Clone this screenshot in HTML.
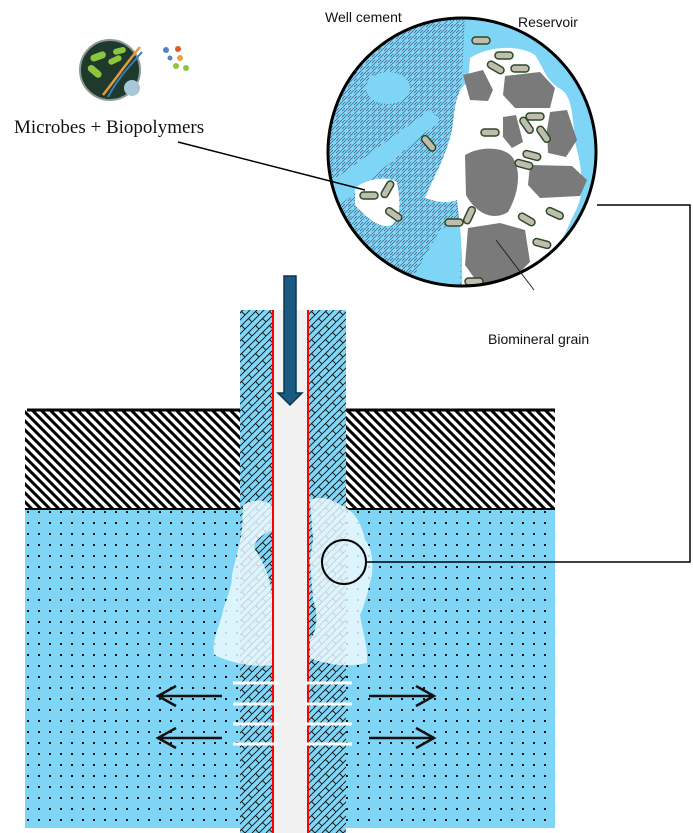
<!DOCTYPE html>
<html><head><meta charset="utf-8"><style>
html,body{margin:0;padding:0;background:#fff;}
svg{display:block}
text{font-family:"Liberation Sans",sans-serif}
</style></head><body>
<svg width="693" height="833" viewBox="0 0 693 833" xmlns="http://www.w3.org/2000/svg">
<defs>
<pattern id="dots" width="11" height="11" patternUnits="userSpaceOnUse">
<rect width="11" height="11" fill="#7fd5f6"/><rect x="5" y="5" width="2" height="2" fill="#111"/>
</pattern>
<pattern id="hatch" width="9" height="9" patternUnits="userSpaceOnUse">
<rect width="9" height="9" fill="#fff"/>
<path d="M-2,-2 L11,11 M-2,7 L2,11 M7,-2 L11,2" stroke="#000" stroke-width="3"/>
</pattern>
<pattern id="brick" width="14" height="14" patternUnits="userSpaceOnUse">
<rect width="14" height="14" fill="#80d6f7"/>
<path d="M0,14 L14,0 M0,7 L7,0 M7,14 L14,7 M3.5,3.5 L7,7 M10.5,10.5 L14,14" stroke="#111" stroke-width="0.9" fill="none"/>
</pattern>
<pattern id="fine" width="6" height="6" patternUnits="userSpaceOnUse">
<rect width="6" height="6" fill="#7fd5f6"/>
<path d="M0,6 L6,0 M0,3 L3,0" stroke="#446" stroke-width="0.6"/>
</pattern>
<clipPath id="cc"><circle cx="462" cy="152" r="134"/></clipPath>
</defs>

<rect x="25" y="410" width="530" height="100" fill="url(#hatch)"/>
<line x1="27" y1="410" x2="555" y2="410" stroke="#000" stroke-width="3"/>
<line x1="25" y1="509" x2="555" y2="509" stroke="#000" stroke-width="2"/>
<rect x="25" y="510" width="530" height="318" fill="url(#dots)"/>

<rect x="240" y="310" width="33" height="523" fill="url(#brick)"/>
<rect x="309" y="310" width="37" height="523" fill="url(#brick)"/>
<rect x="273" y="310" width="36" height="523" fill="#f1f1f1"/>
<line x1="273" y1="310" x2="273" y2="833" stroke="#f00" stroke-width="2"/>
<line x1="308" y1="310" x2="308" y2="833" stroke="#f00" stroke-width="2"/>

<path d="M243,505 C255,498 268,500 272,506 L272,530 C262,535 255,540 254,548 C262,560 270,575 272,595 L272,665 C250,668 230,662 214,655 C212,640 218,630 222,615 C225,600 232,590 232,575 C235,560 240,545 242,530 Z" fill="rgba(240,250,255,0.82)"/>
<path d="M310,500 C320,495 335,500 340,505 C355,510 362,525 365,540 C372,548 373,560 372,575 C368,590 365,605 360,615 C362,630 368,645 367,663 C345,668 325,664 310,658 L310,640 C318,630 318,610 313,600 L310,560 L313,540 Z" fill="rgba(240,250,255,0.82)"/>

<g stroke="#fff" stroke-width="3">
<line x1="233" y1="683" x2="279" y2="683"/><line x1="233" y1="704" x2="279" y2="704"/><line x1="233" y1="724" x2="279" y2="724"/><line x1="233" y1="744" x2="279" y2="744"/>
<line x1="306" y1="683" x2="352" y2="683"/><line x1="306" y1="704" x2="352" y2="704"/><line x1="306" y1="724" x2="352" y2="724"/><line x1="306" y1="744" x2="352" y2="744"/>
</g>
<g stroke="#111" stroke-width="2.5" fill="none">
<path d="M222,696 L158,696 M176,686 L158,696 L176,706"/>
<path d="M222,738 L158,738 M176,728 L158,738 L176,748"/>
<path d="M369,696 L434,696 M416,686 L434,696 L416,706"/>
<path d="M369,738 L434,738 M416,728 L434,738 L416,748"/>
</g>

<path d="M284,276 L296,276 L296,393 L302,393 L290,405 L278,393 L284,393 Z" fill="#1b5a80" stroke="#0d3550" stroke-width="1.5"/>

<circle cx="344" cy="562" r="22" fill="none" stroke="#000" stroke-width="2"/>
<polyline points="366,562 690,562 690,205 597,205" fill="none" stroke="#000" stroke-width="1.5"/>

<g clip-path="url(#cc)">
<rect x="320" y="10" width="290" height="290" fill="#7fd5f6"/>
<path d="M320,10 L465,10 L462,80 L455,140 L458,200 L462,300 L320,300 Z" fill="url(#fine)"/>
<path d="M320,190 L430,110 L440,120 L320,222 Z" fill="#7fd5f6"/>
<path d="M400,300 L440,230 L460,220 L460,300 Z" fill="#7fd5f6"/>
<ellipse cx="388" cy="88" rx="22" ry="16" fill="#7fd5f6"/>
<path d="M470,58 C490,45 520,45 535,55 C545,70 545,80 562,90 C575,100 572,130 577,150 C582,170 585,195 575,212 C565,232 560,250 545,262 C530,277 510,292 470,297 L462,290 C463,250 460,225 457,200 C445,205 432,200 425,198 C432,180 445,160 452,130 C455,110 455,90 468,82 Z" fill="#fff"/>
<path d="M355,188 C368,178 388,176 397,182 C400,200 402,215 392,225 C378,230 365,215 355,205 Z" fill="#fff"/>
<g fill="#7a7a7a">
<path d="M463,75 L483,70 L493,90 L488,101 L470,100 Z"/>
<path d="M505,76 L540,72 L555,88 L550,108 L515,108 L503,95 Z"/>
<path d="M503,117 L516,115 L523,142 L512,148 L503,137 Z"/>
<path d="M550,112 L567,110 L577,140 L566,157 L548,153 L547,130 Z"/>
<path d="M465,155 C480,146 505,146 513,158 C522,172 518,195 508,212 C492,222 475,212 466,195 Z"/>
<path d="M530,165 L572,166 L587,180 L580,196 L540,198 L528,185 Z"/>
<path d="M468,228 L500,223 L525,230 L530,262 L510,282 L480,286 L465,265 Z"/>
</g>
<g fill="#c0bdb0" stroke="#2b4a26" stroke-width="1.5">
<rect x="472" y="37" width="18" height="7" rx="3.5"/>
<rect x="495" y="52" width="18" height="7" rx="3.5"/>
<rect x="487" y="64" width="18" height="7" rx="3.5" transform="rotate(30 496 67)"/>
<rect x="511" y="65" width="18" height="7" rx="3.5"/>
<rect x="481" y="129" width="18" height="7" rx="3.5"/>
<rect x="526" y="113" width="18" height="7" rx="3.5"/>
<rect x="518" y="122" width="18" height="7" rx="3.5" transform="rotate(55 527 125)"/>
<rect x="535" y="131" width="18" height="7" rx="3.5" transform="rotate(55 544 134)"/>
<rect x="523" y="152" width="18" height="7" rx="3.5" transform="rotate(15 532 155)"/>
<rect x="515" y="161" width="18" height="7" rx="3.5" transform="rotate(15 524 164)"/>
<rect x="420" y="140" width="18" height="7" rx="3.5" transform="rotate(50 429 143)"/>
<rect x="360" y="192" width="18" height="7" rx="3.5"/>
<rect x="378" y="186" width="18" height="7" rx="3.5" transform="rotate(-60 387 189)"/>
<rect x="385" y="211" width="18" height="7" rx="3.5" transform="rotate(35 394 214)"/>
<rect x="445" y="219" width="18" height="7" rx="3.5"/>
<rect x="460" y="212" width="18" height="7" rx="3.5" transform="rotate(-65 469 215)"/>
<rect x="518" y="216" width="18" height="7" rx="3.5" transform="rotate(30 527 219)"/>
<rect x="546" y="210" width="18" height="7" rx="3.5" transform="rotate(25 555 213)"/>
<rect x="533" y="240" width="18" height="7" rx="3.5" transform="rotate(15 542 243)"/>
<rect x="465" y="278" width="18" height="7" rx="3.5"/>
</g>
</g>
<circle cx="462" cy="152" r="134" fill="none" stroke="#000" stroke-width="3"/>
<line x1="496" y1="240" x2="534" y2="290" stroke="#222" stroke-width="1"/>
<line x1="178" y1="142" x2="365" y2="190" stroke="#000" stroke-width="1.5"/>

<text x="325" y="22" font-size="14" fill="#111">Well cement</text>
<text x="518" y="27" font-size="14" fill="#111">Reservoir</text>
<text x="488" y="344" font-size="14" fill="#111">Biomineral grain</text>
<text x="14" y="133" font-size="19" fill="#111" style="font-family:'Liberation Serif',serif">Microbes + Biopolymers</text>

<circle cx="110" cy="70" r="30" fill="#1f3a2c" stroke="#8a9a94" stroke-width="2"/>
<g fill="#8cc63f">
<rect x="90" y="53" width="16" height="7" rx="3.5" transform="rotate(-20 98 56)"/>
<rect x="113" y="48" width="13" height="6" rx="3" transform="rotate(-15 119 51)"/>
<rect x="87" y="68" width="16" height="7" rx="3.5" transform="rotate(40 95 71)"/>
<rect x="108" y="57" width="14" height="6" rx="3" transform="rotate(-25 115 60)"/>
</g>
<path d="M103,95 C115,80 125,65 140,47" stroke="#e39b3a" stroke-width="2.5" fill="none"/>
<path d="M108,97 C118,78 128,68 142,52" stroke="#3a7bb8" stroke-width="2" fill="none"/>
<circle cx="132" cy="88" r="8" fill="#a8c8d8"/>
<circle cx="166" cy="50" r="3" fill="#5b7fcf"/><circle cx="178" cy="49" r="3" fill="#e4562c"/>
<circle cx="180" cy="58" r="3" fill="#f0a030"/><circle cx="176" cy="66" r="3" fill="#8cc63f"/>
<circle cx="186" cy="68" r="3" fill="#8cc63f"/><circle cx="170" cy="58" r="2.5" fill="#5b7fcf"/>
</svg>
</body></html>
